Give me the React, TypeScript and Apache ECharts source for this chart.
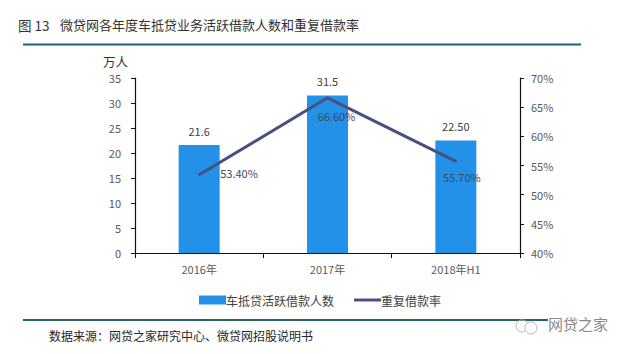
import React, { useEffect, useRef } from "react";
import * as echarts from "echarts";

const categories = ["2016年", "2017年", "2018年H1"];
const borrowers = [21.6, 31.5, 22.5];
const borrowerLabels = ["21.6", "31.5", "22.50"];
const repeatRate = [53.4, 66.6, 55.7];
const repeatLabels = ["53.40%", "66.60%", "55.70%"];
const title = "图 13";
const titleMain = "微贷网各年度车抵贷业务活跃借款人数和重复借款率";
const source = "数据来源：网贷之家研究中心、微贷网招股说明书";
const FONT = '"Noto Sans CJK SC", "Open Sans", sans-serif';
const TICK = "#595959";

export default function App() {
  const ref = useRef<HTMLDivElement>(null);
  useEffect(() => {
    const chart = echarts.init(ref.current!, undefined, { renderer: "svg" });
    chart.setOption({
      animation: false,
      backgroundColor: "#ffffff",
      textStyle: { fontFamily: FONT },
      grid: { left: 135, right: 105, top: 78, bottom: 101 },
      legend: {
        left: 194,
        top: 289,
        itemGap: 20,
        itemWidth: 27,
        itemHeight: 9,
        textStyle: { fontSize: 12, color: "#404040", padding: [0, 0, 0, -5], fontFamily: FONT },
        data: [
          { name: "车抵贷活跃借款人数", icon: "rect" },
          { name: "重复借款率", icon: "path://M0 0H100V11H0Z", itemStyle: { color: "#47507e" } },
        ],
      },
      xAxis: {
        type: "category",
        data: categories,
        axisLine: { lineStyle: { color: "#111", width: 1.2 } },
        axisTick: { show: true, length: 5, lineStyle: { color: "#111" } },
        axisLabel: { color: TICK, fontSize: 11, margin: 10 },
      },
      yAxis: [
        {
          type: "value",
          min: 0,
          max: 35,
          interval: 5,
          axisLine: { show: true, lineStyle: { color: "#111", width: 1.2 } },
          axisTick: { show: true, length: 4, lineStyle: { color: "#111" } },
          axisLabel: { color: TICK, fontSize: 11, margin: 14 },
          splitLine: { show: false },
        },
        {
          type: "value",
          min: 40,
          max: 70,
          interval: 5,
          axisLine: { show: true, lineStyle: { color: "#111", width: 1.2 } },
          axisTick: { show: true, length: 4, lineStyle: { color: "#111" } },
          axisLabel: { color: TICK, fontSize: 11, margin: 11, formatter: "{value}%" },
          splitLine: { show: false },
        },
      ],
      series: [
        {
          name: "车抵贷活跃借款人数",
          type: "bar",
          barWidth: 41,
          data: borrowers,
          itemStyle: { color: "#2391e8" },
          label: {
            show: true,
            position: "top",
            distance: 9,
            color: "#404040",
            fontSize: 11,
            formatter: (p: any) => borrowerLabels[p.dataIndex],
          },
        },
        {
          name: "重复借款率",
          type: "line",
          yAxisIndex: 1,
          symbol: "circle",
          symbolSize: 2,
          data: repeatRate.map((v, i) => ({
            value: v,
            label: {
              show: true,
              position: i === 0 ? "right" : "bottom",
              distance: i === 0 ? 20 : i === 1 ? 12 : 9,
              offset: i === 0 ? [0, -2] : i === 1 ? [9, 0] : [6, 0],
              color: "#3c4a5c",
              fontSize: 11,
              formatter: repeatLabels[i],
            },
          })),
          lineStyle: { color: "#47507e", width: 3 },
          itemStyle: { color: "#47507e" },
        },
      ],
      graphic: [
        { type: "text", x: 18, y: 18, style: { text: title, font: `13.5px ${FONT}`, fill: "#333" } },
        { type: "text", x: 60, y: 18, style: { text: titleMain, font: `13px ${FONT}`, fill: "#333" } },
        { type: "rect", shape: { x: 23, y: 43.5, width: 558, height: 2 }, style: { fill: "#1f6080" } },
        { type: "text", x: 103, y: 55, style: { text: "万人", font: `12.5px ${FONT}`, fill: "#333" } },
        { type: "rect", shape: { x: 23, y: 319, width: 525, height: 2 }, style: { fill: "#26625f" } },
        { type: "text", x: 49, y: 329, style: { text: source, font: `12px ${FONT}`, fill: "#262626" } },
        { type: "text", x: 548, y: 316, style: { text: "网贷之家", font: `15px ${FONT}`, fill: "#8a8a8a" } },
        { type: "circle", shape: { cx: 522, cy: 326, r: 6 }, style: { fill: "none", stroke: "#b8b8b8", lineWidth: 1 } },
        { type: "circle", shape: { cx: 531, cy: 328, r: 6 }, style: { fill: "#fff", stroke: "#b8b8b8", lineWidth: 1 } },
      ],
    });
    return () => chart.dispose();
  }, []);
  return <div ref={ref} style={{ width: 625, height: 354, position: "fixed", left: 0, top: 0 }} />;
}
